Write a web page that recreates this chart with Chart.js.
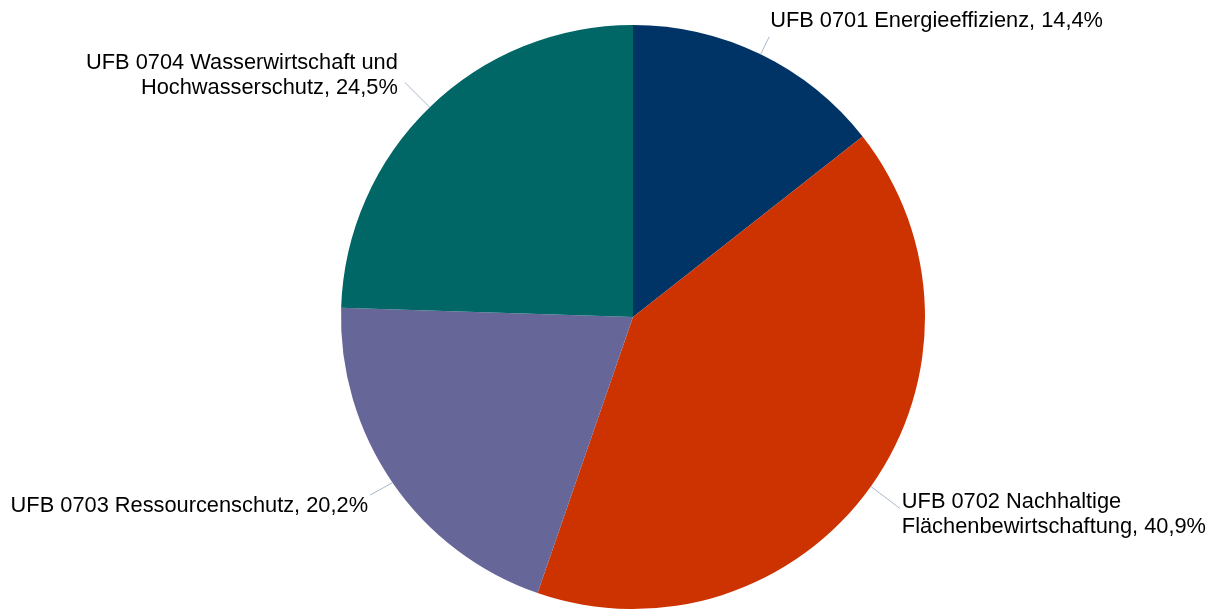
<!DOCTYPE html>
<html>
<head>
<meta charset="utf-8">
<script src="https://cdn.jsdelivr.net/npm/chart.js@4"></script>
<style>
  html, body { margin: 0; padding: 0; background: #fff; }
  canvas { display: block; }
</style>
</head>
<body>
<canvas id="pie" width="1218" height="610"></canvas>
<script>
// categories (already split in the lines used for the labels)
const categories = [
  ["UFB 0701 Energieeffizienz"],
  ["UFB 0702 Nachhaltige", "Flächenbewirtschaftung"],
  ["UFB 0703 Ressourcenschutz"],
  ["UFB 0704 Wasserwirtschaft und", "Hochwasserschutz"]
];
const shares = [14.4, 40.9, 20.2, 24.5];
const colors = ["#003366", "#CC3300", "#666699", "#006666"];

// where each label sits relative to the point on the slice edge
// ldx/ldy: end of leader line, tdx/tdy: text anchor from there
const labelPos = [
  { ldx: 8.5, ldy: -17.5, tdx: 1, tdy: -10, align: "left" },
  { ldx: 29, ldy: 22, tdx: 2, tdy: 0, align: "left" },
  { ldx: -22.5, ldy: 12.5, tdx: -2, tdy: 17, align: "right" },
  { ldx: -25, ldy: -25, tdx: -7, tdy: -13, align: "right" }
];
const lineGap = 25;

const fmt = (v) => v.toFixed(1).replace(".", ",") + "%";

const outsideLabels = {
  id: "outsideLabels",
  afterDraw(chart) {
    const ctx = chart.ctx;
    const meta = chart.getDatasetMeta(0);
    ctx.save();
    ctx.font = "21.8px 'Liberation Sans', Arial, sans-serif";
    ctx.textBaseline = "alphabetic";
    ctx.fillStyle = "#000";
    meta.data.forEach((arc, i) => {
      const p = arc.getProps(["x", "y", "startAngle", "endAngle", "outerRadius"], true);
      const mid = (p.startAngle + p.endAngle) / 2;
      const ax = p.x + Math.cos(mid) * p.outerRadius;
      const ay = p.y + Math.sin(mid) * p.outerRadius;
      const pos = labelPos[i];
      const ex = ax + pos.ldx;
      const ey = ay + pos.ldy;

      ctx.strokeStyle = "#A9B6CC";
      ctx.lineWidth = 1;
      ctx.beginPath();
      ctx.moveTo(ax, ay);
      ctx.lineTo(ex, ey);
      ctx.stroke();

      const lines = categories[i].slice();
      lines[lines.length - 1] += ", " + fmt(shares[i]);
      ctx.textAlign = pos.align;
      lines.forEach((txt, k) => {
        ctx.fillText(txt, ex + pos.tdx, ey + pos.tdy + k * lineGap);
      });
    });
    ctx.restore();
  }
};

new Chart(document.getElementById("pie"), {
  type: "pie",
  data: {
    labels: categories.map((c) => c.join(" ")),
    datasets: [{
      data: shares,
      backgroundColor: colors,
      borderWidth: 0
    }]
  },
  options: {
    responsive: false,
    devicePixelRatio: 1,
    animation: false,
    layout: { padding: { top: 25, bottom: 1, left: 48, right: 0 } },
    plugins: {
      legend: { display: false },
      tooltip: { enabled: false }
    }
  },
  plugins: [outsideLabels]
});
</script>
</body>
</html>
